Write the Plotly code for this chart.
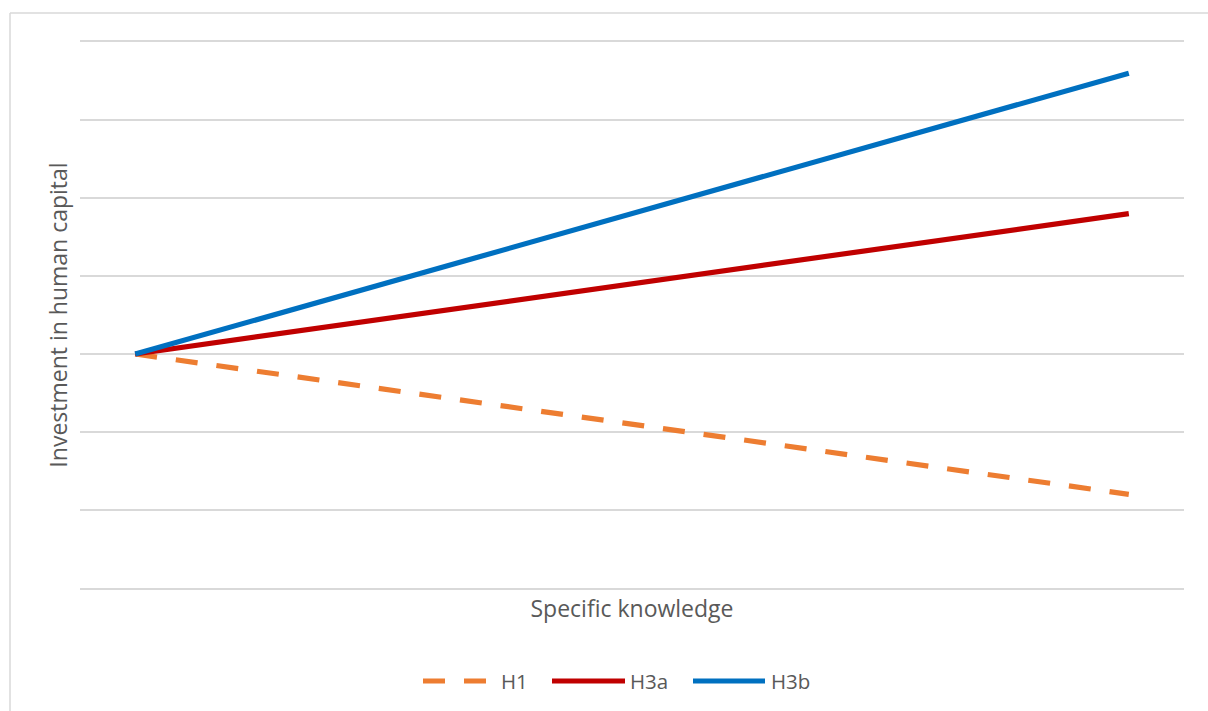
import plotly.graph_objects as go

# Specific knowledge (category positions of the two plotted points)
knowledge = [1, 10]

# Investment in human capital for each hypothesis
h1 = [3.0, 1.2]
h3a = [3.0, 4.8]
h3b = [3.0, 6.6]

series_names = ["H1", "H3a", "H3b"]
series_colors = ["#ED7D31", "#C00000", "#0070C0"]
series_dash = ["22px,19px", "solid", "solid"]
series_values = [h1, h3a, h3b]

W, H = 1208, 711
ML, MR, MT, MB = 80, 24, 42, 123
PW, PH = W - ML - MR, H - MT - MB


def px_x(x):
    return (x - ML) / PW


def px_y(y):
    return (H - MB - y) / PH


FONT = "Open Sans"
GREY_TXT = "#595959"
GRID = "#d9d9d9"

fig = go.Figure()
for name, vals, col, dash in zip(series_names, series_values, series_colors, series_dash):
    fig.add_trace(go.Scatter(
        x=knowledge, y=vals, mode="lines", name=name,
        line=dict(color=col, width=5.2, dash=dash),
        showlegend=False,
    ))

shapes = [
    # chart frame (left and top edges)
    dict(type="line", xref="paper", yref="paper", x0=px_x(10), x1=px_x(10),
         y0=px_y(13), y1=px_y(720), line=dict(color=GRID, width=1.5)),
    dict(type="line", xref="paper", yref="paper", x0=px_x(10), x1=px_x(1215),
         y0=px_y(13), y1=px_y(13), line=dict(color=GRID, width=1.5)),
]
annotations = []

# legend row
legend_items = [(423, 488, 499), (552, 625, 628), (693, 765, 769)]
ly = 681
for (x0, x1, tx), name, col, dash in zip(legend_items, series_names, series_colors, series_dash):
    shapes.append(dict(type="line", xref="paper", yref="paper",
                       x0=px_x(x0), x1=px_x(x1), y0=px_y(ly), y1=px_y(ly),
                       line=dict(color=col, width=5.2, dash=dash)))
    annotations.append(dict(text=name, xref="paper", yref="paper",
                            x=px_x(tx), y=px_y(ly), xanchor="left", yanchor="middle",
                            showarrow=False, font=dict(family=FONT, size=20.5, color=GREY_TXT)))

fig.update_layout(
    width=W, height=H,
    margin=dict(l=ML, r=MR, t=MT, b=MB),
    paper_bgcolor="white", plot_bgcolor="white",
    xaxis=dict(range=[0.5, 10.5], showgrid=False, zeroline=False, showticklabels=False,
               showline=True, mirror=True, linecolor=GRID, linewidth=1.5, ticks="",
               title=dict(text="Specific knowledge", standoff=12,
                          font=dict(family=FONT, size=23, color=GREY_TXT))),
    yaxis=dict(range=[0, 7], dtick=1, showgrid=True, gridcolor=GRID, gridwidth=1.5,
               zeroline=False, showticklabels=False, ticks="",
               title=dict(text="Investment in human capital", standoff=4,
                          font=dict(family=FONT, size=23, color=GREY_TXT))),
    shapes=shapes,
    annotations=annotations,
)

fig.write_html("out.html")
